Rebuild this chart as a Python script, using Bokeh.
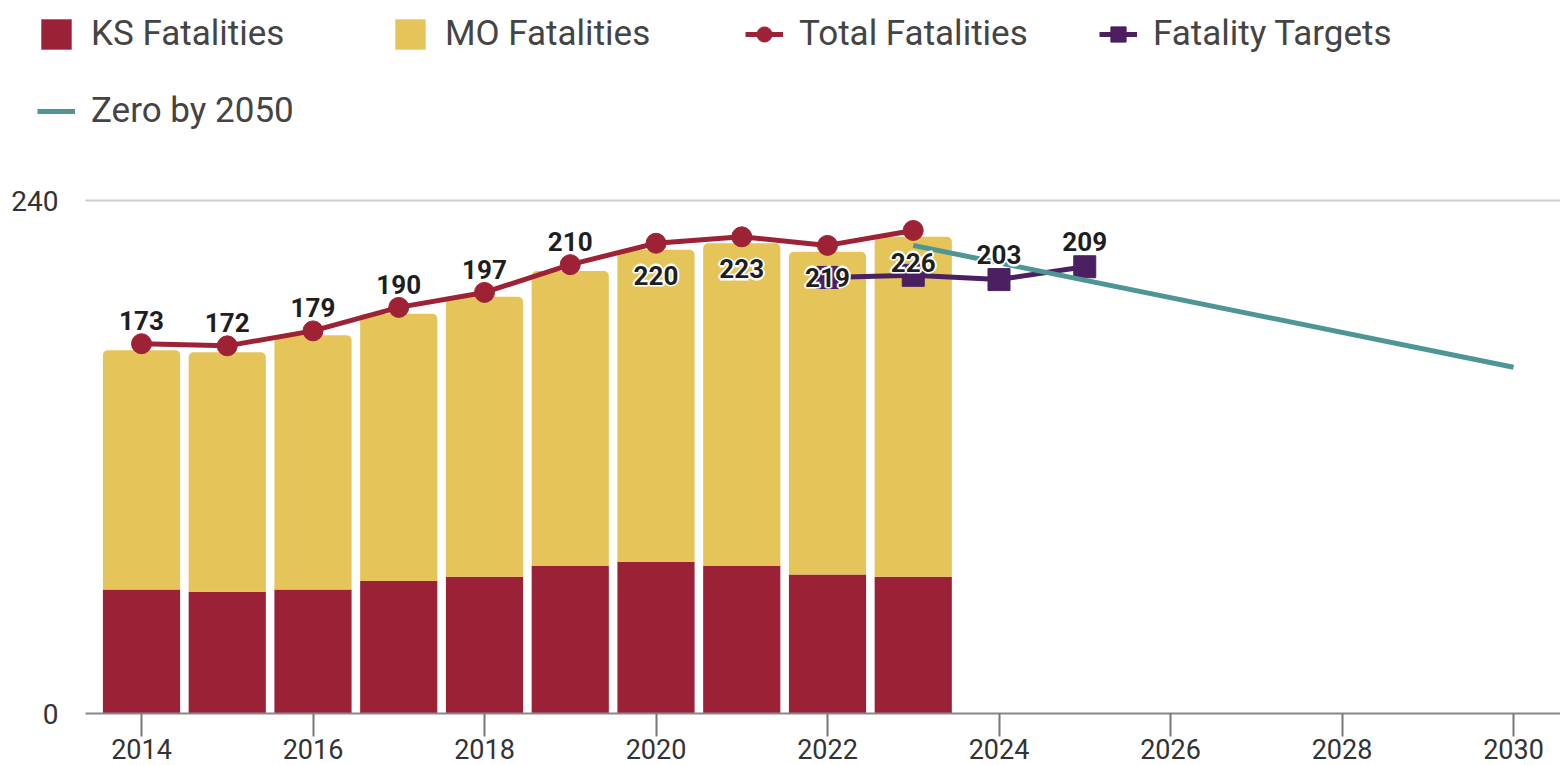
from bokeh.plotting import figure
from bokeh.models import Legend, LegendItem, FixedTicker, LinearAxis
from bokeh.core.properties import value
from bokeh.embed import file_html
from bokeh.resources import INLINE

# ---- data ----
years = [2014, 2015, 2016, 2017, 2018, 2019, 2020, 2021, 2022, 2023]
ks_fatalities = [58, 57, 58, 62, 64, 69, 71, 69, 65, 64]
mo_fatalities = [112, 112, 119, 125, 131, 138, 146, 151, 151, 159]
total_fatalities = [173, 172, 179, 190, 197, 210, 220, 223, 219, 226]
target_years = [2022, 2023, 2024, 2025]
fatality_targets = [204, 205, 203, 209]
zero_years = [2023, 2030]
zero_by_2050 = [219, 162]
x_ticks = [2014, 2016, 2018, 2020, 2022, 2024, 2026, 2028, 2030]
y_ticks = [0, 240]

KS_COLOR = "#9B2236"
MO_COLOR = "#E5C459"
TOTAL_COLOR = "#9E2236"
TARGET_COLOR = "#4A2060"
ZERO_COLOR = "#4E9595"
FONT = "Roboto"

W, H = 1560, 765
ZERO_PX = 713          # pixel row of the value 0
PX_PER_YEAR = 85.75
PX_PER_UNIT = 2.1375
X_START = 2014 - 141 / PX_PER_YEAR
X_END = 2014 + (W - 141) / PX_PER_YEAR
AXIS_START = 2014 - 56 / PX_PER_YEAR
Y_START = -(H - ZERO_PX) / PX_PER_UNIT
Y_END = ZERO_PX / PX_PER_UNIT

p = figure(width=W, height=H, output_backend="svg", toolbar_location=None,
           x_range=(X_START, X_END), y_range=(Y_START, Y_END),
           x_axis_location=None, y_axis_location=None,
           min_border_left=0, min_border_right=0, min_border_top=0,
           min_border_bottom=0)
p.outline_line_color = None
p.background_fill_color = "white"
p.border_fill_color = "white"

# bars
mo_bottom = ks_fatalities
mo_top = [k + m for k, m in zip(ks_fatalities, mo_fatalities)]
ks_r = p.vbar(x=years, bottom=0, top=ks_fatalities, width=0.9,
              fill_color=KS_COLOR, line_color=None)
mo_r = p.vbar(x=years, bottom=mo_bottom, top=mo_top, width=0.9,
              fill_color=MO_COLOR, line_color=None, border_radius=(5, 5, 0, 0))

# targets
tl = p.line(target_years, fatality_targets, line_color=TARGET_COLOR, line_width=5)
ts = p.scatter(target_years, fatality_targets, marker="square", size=22,
               fill_color=TARGET_COLOR, line_color=TARGET_COLOR)

# zero by 2050
zl = p.line(zero_years, zero_by_2050, line_color=ZERO_COLOR, line_width=5)

# totals
totl = p.line(years, total_fatalities, line_color=TOTAL_COLOR, line_width=5)
tots = p.scatter(years, total_fatalities, marker="circle", size=20,
                 fill_color=TOTAL_COLOR, line_color=TOTAL_COLOR)

# data labels: white halo underneath, dark bold text on top
HALO = [(-1.5, 0), (1.5, 0), (0, -1.5), (0, 1.5)]

def labels(xs, ys, dy):
    txt = [str(v) for v in ys]
    base = dict(text_font=value(FONT), text_font_size="26px", text_font_style="bold",
                text_align="center", text_baseline="middle")
    for hx, hy in HALO:
        p.text(xs, ys, text=txt, text_color="white", text_outline_color="white",
               x_offset=hx, y_offset=dy + hy, **base)
    p.text(xs, ys, text=txt, text_color="#1E1E1E", y_offset=dy, **base)

labels(years[:6], total_fatalities[:6], -23)
labels(years[6:], total_fatalities[6:], 32)
labels(target_years[2:], fatality_targets[2:], -25)

# y axis drawn at the left edge of the plotting area
yax = LinearAxis(ticker=FixedTicker(ticks=y_ticks), fixed_location=AXIS_START)
yax.axis_line_color = None
yax.major_tick_line_color = None
yax.minor_tick_line_color = None
yax.major_label_standoff = 21
yax.major_label_text_font = FONT
yax.major_label_text_font_size = "28px"
yax.major_label_text_color = "#333333"
p.add_layout(yax, "left")

# x axis drawn at the value 0
xax = LinearAxis(ticker=FixedTicker(ticks=x_ticks), fixed_location=0,
                 bounds=(AXIS_START, X_END))
xax.axis_line_color = "#888888"
xax.axis_line_width = 2
xax.major_tick_line_color = "#777777"
xax.major_tick_line_width = 2
xax.major_tick_in = 0
xax.major_tick_out = 23
xax.minor_tick_line_color = None
xax.major_label_standoff = 2
xax.major_label_text_font = FONT
xax.major_label_text_font_size = "27px"
xax.major_label_text_color = "#333333"
p.add_layout(xax, "below")

# grid line at 240 only, starting at the axis
p.xgrid.grid_line_color = None
p.ygrid.ticker = FixedTicker(ticks=y_ticks[1:])
p.ygrid.cross_bounds = (AXIS_START, X_END)
p.ygrid.grid_line_color = "#CCCCCC"
p.ygrid.grid_line_width = 2

# legend
legend = Legend(items=[
    LegendItem(label="KS Fatalities", renderers=[ks_r]),
    LegendItem(label="MO Fatalities", renderers=[mo_r]),
    LegendItem(label="Total Fatalities", renderers=[totl, tots]),
    LegendItem(label="Fatality Targets", renderers=[tl, ts]),
    LegendItem(label="Zero by 2050", renderers=[zl]),
], orientation="horizontal", ncols=4)
legend.glyph_width = 38
legend.glyph_height = 38
legend.label_height = 38
legend.label_width = 264
legend.label_standoff = 16
legend.spacing = 36
legend.padding = 0
legend.margin = 0
legend.border_line_color = None
legend.background_fill_alpha = 0
legend.label_text_font = FONT
legend.label_text_font_size = "35px"
legend.label_text_color = "#444444"
legend.location = (37, H - (19 + 112))
p.add_layout(legend, "center")

open("out.html", "w").write(file_html(p, INLINE))
